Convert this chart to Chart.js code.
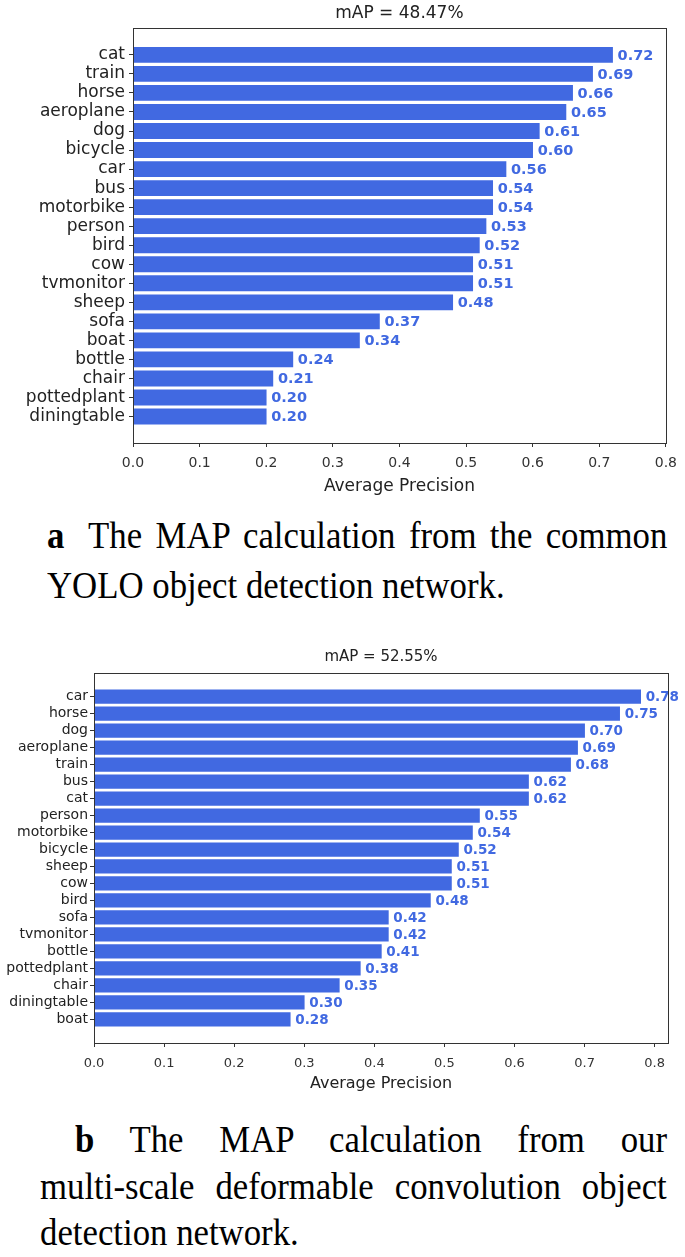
<!DOCTYPE html>
<html>
<head>
<meta charset="utf-8">
<script src="https://cdn.jsdelivr.net/npm/chart.js@4"></script>
<style>
  body { margin: 0; background: #fff; width: 685px; height: 1257px; position: relative; overflow: hidden; }
  canvas { position: absolute; left: 0; }
  #chartA { top: 0; }
  #chartB { top: 640px; }
  .cap { position: absolute; font-family: "Liberation Serif", "Times New Roman", serif; font-size: 38px; line-height: 38px;
         color: #000; transform: scaleX(0.915); transform-origin: 0 0; }
  .just { text-align: justify; text-align-last: justify; }
</style>
</head>
<body>
<canvas id="chartA" width="685" height="500"></canvas>
<canvas id="chartB" width="685" height="460"></canvas>

<div class="cap just" style="left:47px; top:516px; width:678px;"><b style="margin-right:12px">a</b> The MAP calculation from the common</div>
<div class="cap" style="left:47px; top:566px;">YOLO object detection network.</div>

<div class="cap just" style="left:75px; top:1120px; width:647px;"><b>b</b> The MAP calculation from our</div>
<div class="cap just" style="left:40px; top:1167px; width:685px;">multi-scale deformable convolution object</div>
<div class="cap" style="left:40px; top:1213px;">detection network.</div>

<script>
// ---------- data ----------
const titleA = 'mAP = 48.47%';
const classesA = ['cat','train','horse','aeroplane','dog','bicycle','car','bus','motorbike','person',
                  'bird','cow','tvmonitor','sheep','sofa','boat','bottle','chair','pottedplant','diningtable'];
const apA = [0.72,0.69,0.66,0.65,0.61,0.60,0.56,0.54,0.54,0.53,0.52,0.51,0.51,0.48,0.37,0.34,0.24,0.21,0.20,0.20];

const titleB = 'mAP = 52.55%';
const classesB = ['car','horse','dog','aeroplane','train','bus','cat','person','motorbike','bicycle',
                  'sheep','cow','bird','sofa','tvmonitor','bottle','pottedplant','chair','diningtable','boat'];
const apB = [0.78,0.75,0.70,0.69,0.68,0.62,0.62,0.55,0.54,0.52,0.51,0.51,0.48,0.42,0.42,0.41,0.38,0.35,0.30,0.28];

const xTitle = 'Average Precision';

const FONT = '"DejaVu Sans", sans-serif';
const BAR = '#4169E1';
const INK = '#222';

// box round the plot area (matplotlib style)
const frame = {
  id: 'frame',
  afterDraw(chart){
    const {ctx, chartArea: a} = chart;
    ctx.save();
    ctx.strokeStyle = '#333';
    ctx.lineWidth = 1;
    ctx.strokeRect(Math.round(a.left) + 0.5, Math.round(a.top) + 0.5,
                   Math.round(a.right - a.left), Math.round(a.bottom - a.top));
    ctx.restore();
  }
};

// value text right of each bar
const valueLabels = {
  id: 'valueLabels',
  afterDatasetsDraw(chart, args, opts){
    const ctx = chart.ctx;
    const ds = chart.data.datasets[0];
    ctx.save();
    ctx.fillStyle = BAR;
    ctx.font = 'bold ' + opts.size + 'px ' + FONT;
    ctx.textBaseline = 'middle';
    ctx.textAlign = 'left';
    chart.getDatasetMeta(0).data.forEach((bar, i) => {
      ctx.fillText(ds.data[i].x.toFixed(2), bar.x + 5, bar.y + 1);
    });
    ctx.restore();
  }
};

function makeChart(id, title, labels, values, s){
  return new Chart(document.getElementById(id), {
    type: 'bar',
    data: {
      datasets: [{
        data: values.map((v, i) => ({x: v, y: i})),
        backgroundColor: BAR,
        borderWidth: 0,
        barThickness: s.bar
      }]
    },
    options: {
      indexAxis: 'y',
      responsive: false,
      animation: false,
      layout: { padding: {left: 0, right: s.right, top: 0, bottom: 0} },
      plugins: {
        legend: {display: false},
        tooltip: {enabled: false},
        title: {
          display: true, text: title, fullSize: false, color: INK,
          font: {family: FONT, size: s.titleSize, weight: 'normal', lineHeight: 1.2},
          padding: s.titlePad
        },
        valueLabels: {size: s.valSize}
      },
      scales: {
        x: {
          type: 'linear', min: 0, max: s.xmax, bounds: 'data',
          afterFit: sc => { sc.height = s.xAxisH; },
          grid: {drawOnChartArea: false, drawTicks: true, tickLength: 4, color: '#333'},
          border: {display: true, color: '#333'},
          ticks: {stepSize: 0.1, includeBounds: false, color: '#333', padding: s.xTickPad,
                  font: {family: FONT, size: s.xTickSize}, callback: v => v.toFixed(1)},
          title: {display: true, text: xTitle, color: INK, padding: {top: 0, bottom: s.xTitlePad},
                  font: {family: FONT, size: s.xTitleSize, lineHeight: 1.2}}
        },
        y: {
          type: 'linear', reverse: true, offset: false, bounds: 'data',
          min: -1.39, max: labels.length - 1 + 1.39,
          afterBuildTicks: sc => { sc.ticks = labels.map((_, i) => ({value: i})); },
          afterFit: sc => { sc.width = s.left; },
          grid: {offset: false, drawOnChartArea: false, drawTicks: true, tickLength: 4, color: '#333'},
          border: {display: true, color: '#333'},
          ticks: {stepSize: 1, autoSkip: false, color: INK, padding: s.yTickPad,
                  font: {family: FONT, size: s.yTickSize}, callback: v => labels[v]}
        }
      }
    },
    plugins: [frame, valueLabels]
  });
}

makeChart('chartA', titleA, classesA, apA, {
  left: 133, right: 14, xmax: 0.8, bar: 15.2, xAxisH: 57,
  titleSize: 17, titlePad: {top: 3, bottom: 5},
  xTickSize: 14, xTickPad: 8, xTitleSize: 17, xTitlePad: 3,
  yTickSize: 17, yTickPad: 4, valSize: 14.5
});

makeChart('chartB', titleB, classesB, apB, {
  left: 94, right: 17, xmax: 0.819, bar: 13.6, xAxisH: 57,
  titleSize: 15, titlePad: {top: 8, bottom: 7},
  xTickSize: 13, xTickPad: 9, xTitleSize: 16, xTitlePad: 7,
  yTickSize: 14, yTickPad: 2, valSize: 13.5
});
</script>
</body>
</html>
